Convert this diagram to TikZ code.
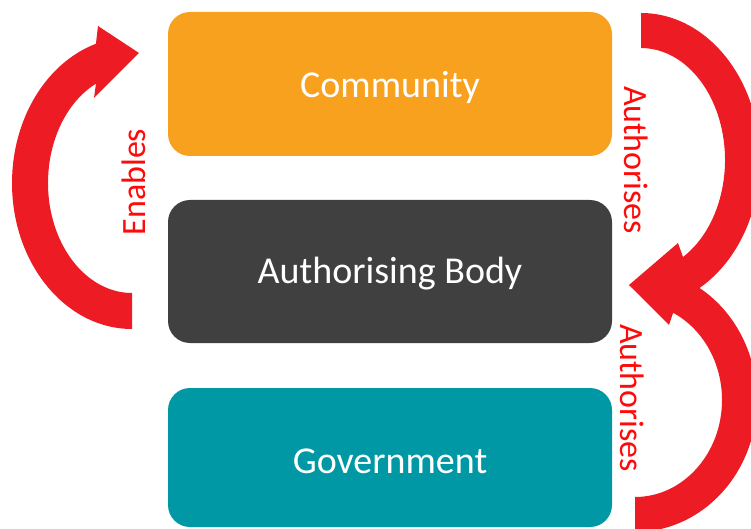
\documentclass[tikz,border=0pt]{standalone}
\usepackage{fontspec}
\setmainfont{Carlito}
\definecolor{corange}{HTML}{F7A11F}
\definecolor{cdark}{HTML}{404041}
\definecolor{cteal}{HTML}{0098A5}
\definecolor{cred}{HTML}{ED1C24}
\definecolor{clab}{HTML}{FF0A0A}
\begin{document}
\begin{tikzpicture}[x=1pt,y=1pt,
  box/.style={rounded corners=22pt, inner sep=0pt},
  boxtext/.style={text=white, font=\fontsize{38}{40}\selectfont},
  lab/.style={text=clab, font=\fontsize{34}{36}\selectfont, inner sep=0pt},
  band/.style={fill=cred, draw=none}]
\useasboundingbox (0,0) rectangle (751,528);
\clip (0,0) rectangle (751,528);
% boxes
\fill[box, corange] (168,372) rectangle (612,516);
\fill[box, cdark] (168,185) rectangle (612,328);
\fill[box, cteal] (168,1) rectangle (612,140);
\node[boxtext] (comm) at (390,441) {Community};
\node[boxtext] (auth) at (390,254) {Authorising Body};
\node[boxtext] (gov) at (390,67) {Government};
% left arrow
\fill[band] ([shift={(132,345)}]270:120 and 146)
  arc[x radius=120, y radius=146, start angle=270, end angle=107.5]
  -- (98,502) -- (139,475) -- (94,430)
  -- ([shift={(132,345)}]115.4:84 and 110)
  arc[x radius=84, y radius=110, start angle=115.4, end angle=270] -- cycle;
% top right arrow
\fill[band] ([shift={(641,368)}]90:119 and 147)
  arc[x radius=119, y radius=147, start angle=90, end angle=-62.2]
  -- (668,210) -- (629,243) -- (678,285)
  -- ([shift={(641,368)}]-60:84 and 112)
  arc[x radius=84, y radius=112, start angle=-60, end angle=90] -- cycle;
% bottom right arrow
\fill[band] ([shift={(635,128)}]-90:87 and 97)
  arc[x radius=87, y radius=97, start angle=-90, end angle=64]
  -- (669,203) -- (629,243) -- (696,259)
  -- ([shift={(635,128)}]62:122 and 132)
  arc[x radius=122, y radius=132, start angle=62, end angle=-90] -- cycle;
% labels
\node[lab, rotate=90] (en) at (134,346) {Enables};
\node[lab, rotate=-90] (au1) at (636,368) {Authorises};
\node[lab, rotate=-90] (au2) at (632,130) {Authorises};
\end{tikzpicture}
\end{document}
